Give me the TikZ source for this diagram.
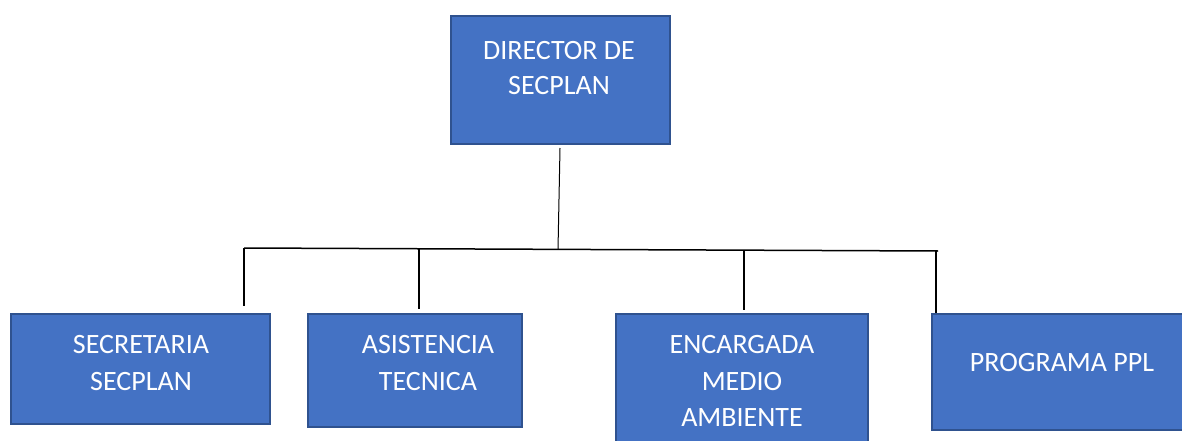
\documentclass[tikz,border=0pt]{standalone}
\usepackage{fontspec}
\setmainfont{Carlito}
\definecolor{boxfill}{HTML}{4472C4}
\definecolor{boxline}{HTML}{2F528F}
\tikzset{
  orgbox/.style={draw=boxline, fill=boxfill, line width=1.6pt, inner sep=0pt, anchor=north west},
  orgtext/.style={text=white, font=\fontsize{28}{35}\selectfont, align=center, anchor=base, inner sep=0pt},
  conn/.style={draw=black, line width=1.5pt}
}
\begin{document}
\begin{tikzpicture}[x=1pt,y=-1pt]
\useasboundingbox (0,0) rectangle (1182,441);
% boxes
\node[orgbox, minimum width=219pt, minimum height=128pt] (dir) at (450,15) {};
\node[orgbox, minimum width=259pt, minimum height=110pt] (sec) at (10,313) {};
\node[orgbox, minimum width=214pt, minimum height=113pt] (asi) at (307,313) {};
\node[orgbox, minimum width=252pt, minimum height=140pt] (enc) at (615,313) {};
\node[orgbox, minimum width=260pt, minimum height=116pt] (pro) at (931,313) {};
% texts
\node[orgtext] (tdir1) at (559,60) {DIRECTOR DE};
\node[orgtext] (tdir2) at (559,95) {SECPLAN};
\node[orgtext] (tsec1) at (141,353) {SECRETARIA};
\node[orgtext] (tsec2) at (141,390) {SECPLAN};
\node[orgtext] (tasi1) at (428,353) {ASISTENCIA};
\node[orgtext] (tasi2) at (428,390) {TECNICA};
\node[orgtext] (tenc1) at (742,353) {ENCARGADA};
\node[orgtext] (tenc2) at (742,390) {MEDIO};
\node[orgtext] (tenc3) at (742,426) {AMBIENTE};
\node[orgtext] (tpro) at (1062,371) {PROGRAMA PPL};
% connector coordinates
\coordinate (top) at (560,148);
\coordinate (mid) at (558,249.5);
\coordinate (hl) at (244,248);
\coordinate (hr) at (938,251);
\coordinate (d1) at (244,306);
\coordinate (j2) at (419,248.8);
\coordinate (d2) at (419,309);
\coordinate (j3) at (744,250);
\coordinate (d3) at (744,310);
\coordinate (j4) at (936,251);
\coordinate (d4) at (936,313);
% connectors
\draw[conn, line width=1pt] (top) -- (mid);
\draw[conn] (hl) -- (hr);
\draw[conn] (hl) -- (d1);
\draw[conn] (j2) -- (d2);
\draw[conn] (j3) -- (d3);
\draw[conn] (j4) -- (d4);
\end{tikzpicture}
\end{document}
